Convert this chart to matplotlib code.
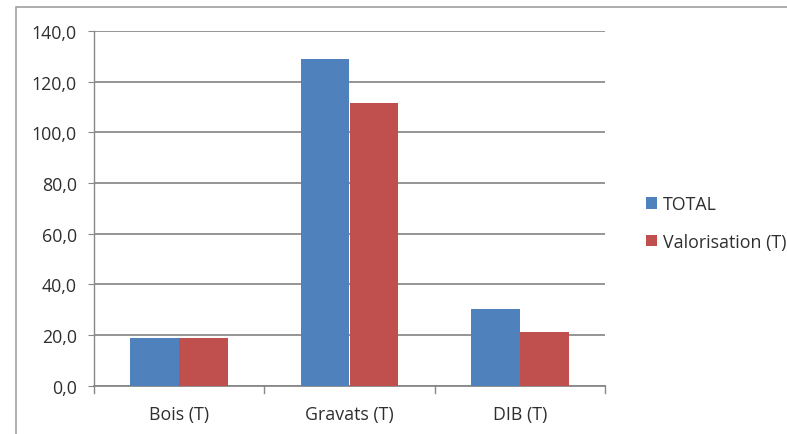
import matplotlib
matplotlib.use("Agg")
import matplotlib.pyplot as plt
import numpy as np
from matplotlib.patches import Rectangle

categories = ["Bois (T)", "Gravats (T)", "DIB (T)"]
total = [18.7, 128.8, 30.3]
valorisation = [18.7, 111.5, 21.1]
series_names = ["TOTAL", "Valorisation (T)"]
yticks = [0, 20, 40, 60, 80, 100, 120, 140]

plt.rcParams['font.family'] = ['Open Sans', 'DejaVu Sans']
FS = 12.8
TC = "#2e2e2e"

fig = plt.figure(figsize=(7.87, 4.35), dpi=100)
ax = fig.add_axes([94/787, 1-386.7/435, (605-94)/787, (386.7-32)/435])

x = np.arange(len(categories))
w = 0.286
b1 = ax.bar(x - w/2, total, w, color="#4F81BD", label=series_names[0], zorder=3)
b2 = ax.bar(x + w/2, valorisation, w, color="#C0504D", label=series_names[1], zorder=3)

ax.set_xlim(-0.5, 2.5)
ax.set_ylim(0, 140)
ax.set_yticks(yticks)
ax.set_yticklabels([f"{v:.1f}".replace(".", ",") for v in yticks], fontsize=FS, color=TC)
ax.set_xticks(x)
ax.set_xticklabels(categories, fontsize=FS, color=TC)
ax.tick_params(axis='x', length=0, pad=14)
ax.tick_params(axis='y', length=4.3, color="#888888", pad=8)
for xb in [-0.5, 0.5, 1.5, 2.5]:
    ax.plot([xb, xb], [0, -3], color="#888888", lw=1, clip_on=False, zorder=4)

ax.grid(axis='y', color="#8c8c8c", lw=1.3, zorder=0)
for s in ['top', 'right']:
    ax.spines[s].set_visible(False)
ax.spines['left'].set_color("#888888")
ax.spines['bottom'].set_color("#888888")
ax.spines['left'].set_linewidth(1)
ax.spines['bottom'].set_linewidth(1.3)

leg = fig.legend(handles=[b1, b2], labels=series_names, loc='center left',
                 bbox_to_anchor=(630/787, 1-224/435), frameon=False, fontsize=FS,
                 handlelength=0.6, handleheight=0.6, handletextpad=0.35, labelspacing=1.1)
for t in leg.get_texts():
    t.set_color(TC)

fig.patches.append(Rectangle((16/787, -0.01), 1.0, 1-8/435+0.01, transform=fig.transFigure,
                             fill=False, edgecolor="#a0a0a0", lw=1.2))

fig.savefig("out.png", dpi=100)
